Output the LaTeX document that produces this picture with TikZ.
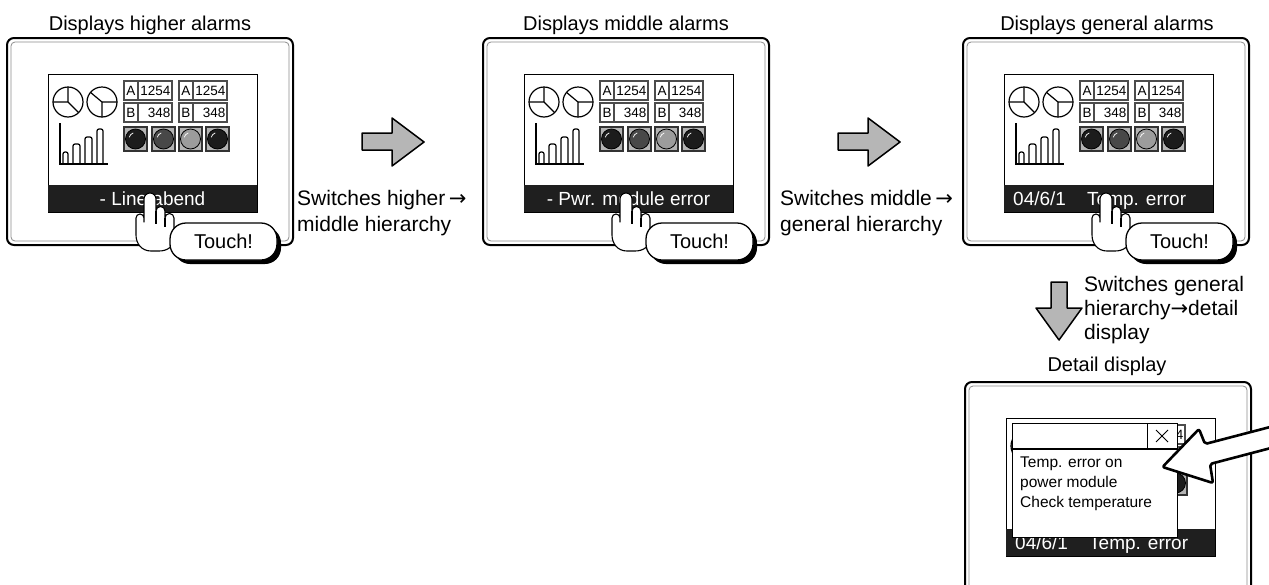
\documentclass[tikz,border=0pt]{standalone}
\usepackage{fontspec}
\setmainfont{Liberation Sans}
\newfontfamily\arrowfont{DejaVu Sans}
\usetikzlibrary{arrows.meta}

\definecolor{lampdark}{HTML}{1C1C1C}
\definecolor{lampmid}{HTML}{484848}
\definecolor{lamplight}{HTML}{9C9C9C}
\definecolor{lampbg}{HTML}{B4B4B4}
\definecolor{arrowgray}{HTML}{B6B6B6}

\tikzset{
  ttl/.style={inner sep=0pt, font=\fontsize{20}{26}\selectfont},
  lbl/.style={inner sep=0pt, align=left, font=\fontsize{21}{26}\selectfont},
  bezel/.style={draw, line width=2pt, rounded corners=7pt, fill=white},
  bezelin/.style={draw=black!45, line width=0.8pt, rounded corners=4pt},
  screenbox/.style={draw, line width=0.9pt, fill=white},
  msgbar/.style={fill=black!88},
  bartext/.style={inner sep=0pt, text=white, font=\fontsize{19}{23}\selectfont},
  datacell/.style={draw=black!70, line width=1.3pt},
  datatext/.style={inner sep=0pt, font=\fontsize{13.5}{16}\selectfont},
  lampbox/.style={draw=black!80, line width=1.1pt, fill=lampbg},
  lamp/.style={draw=black, line width=0.8pt},
  shine/.style={draw=white, line width=0.7pt},
  chartline/.style={draw, line width=1.2pt},
  handshape/.style={draw, fill=white, line width=1.1pt, line join=round},
  bubble/.style={draw, fill=white, line width=1.3pt, rounded corners=16pt},
  bubbleshadow/.style={fill=black, rounded corners=16pt},
  touchtext/.style={inner sep=0pt, font=\fontsize{20}{24}\selectfont},
  blockarrow/.style={draw, fill=arrowgray, line width=1.5pt, line join=round},
  ptrarrow/.style={draw, fill=white, line width=2.6pt, line join=round, rounded corners=2pt},
  dlgbox/.style={draw, fill=white, line width=1pt},
  dlgtext/.style={inner sep=0pt, font=\fontsize{15.5}{20}\selectfont},
}

% outer case of an operator panel, #1 = bottom edge
\newcommand\hmibezel[1]{%
  \path[bezel] (7,38) rectangle (293,#1);
  \path[bezelin] (11,42) rectangle (289,#1-4);}

% screen with pie charts, bar chart, numeric displays and lamps
% #1 = name prefix, #2 = numeric display columns (left edge/index)
\newcommand\hmiscreen[2]{%
  \path[screenbox] (48,74) rectangle (257,212);
  \path[chartline] (68,102) circle[radius=15];
  \path[chartline] (68,87) -- (68,102) -- (53,102) (68,102) -- (78.6,112.6);
  \path[chartline] (102,102) circle[radius=15];
  \path[chartline] (117,102) -- (102,102) -- (102,117) (102,102) -- (90.5,92.4);
  \path[chartline] (60,123) -- (60,164) -- (108,164);
  \foreach \bl/\br/\bt in {63/68/152,73/80/144,85/92/137,97/103/129}{
    \path[chartline, rounded corners=2pt] (\bl,164) -- (\bl,\bt) -- (\br,\bt) -- (\br,164);}
  \foreach \cx/\k in {#2}{
    \path[datacell] (\cx,81) rectangle ++(48,19);
    \path[datacell] (\cx+14,81) -- ++(0,19);
    \path[datacell] (\cx,103) rectangle ++(48,19);
    \path[datacell] (\cx+14,103) -- ++(0,19);
    \node[datatext] (#1la\k) at (\cx+7,90.5) {A};
    \node[datatext, anchor=east] (#1va\k) at (\cx+46.5,90.5) {1254};
    \node[datatext] (#1lb\k) at (\cx+7,112.5) {B};
    \node[datatext, anchor=east] (#1vb\k) at (\cx+46.5,112.5) {348};}
  \foreach \lx/\lc in {124/lampdark,152/lampmid,179/lamplight,206/lampdark}{
    \path[lampbox] (\lx,127) rectangle ++(23,24);
    \path[lamp, fill=\lc] (\lx+11.5,139) circle[radius=10];
    \path[shine] (\lx+11.5,139) ++(195:6.5) arc[start angle=195, end angle=250, radius=6.5];}
  \path[msgbar] (48,185) rectangle (257,212);}

% pointing hand and the "Touch!" balloon
\newcommand\touchhand[1]{%
  \begin{scope}[shift={(150,193)}]
    \path[handshape] (-6,6) arc[start angle=180, end angle=360, radius=6]
      -- (6,18) arc[start angle=180, end angle=360, radius=4.5]
      -- (15,25) arc[start angle=180, end angle=360, radius=4.5]
      -- (24,45) .. controls (24,53) and (18,58) .. (9,58)
      -- (1,58) .. controls (-8,58) and (-14,51) .. (-14,42)
      -- (-14,25) arc[start angle=180, end angle=360, radius=4]
      -- (-6,29) -- cycle;
    \draw[line width=1.1pt] (6,18) -- (6,31) (15,25) -- (15,34);
  \end{scope}
  \path[bubbleshadow] (174,227) rectangle (281,264);
  \path[bubble] (170,223) rectangle (277,260);
  \node[touchtext] (#1touch) at (223.5,241.5) {Touch!};}

\begin{document}
\begin{tikzpicture}[x=1pt,y=-1pt]
\useasboundingbox (0,0) rectangle (1269,584);
\clip (0,0) rectangle (1269,584);
\fill[white] (0,0) rectangle (1269,584);

% higher alarms
\node[ttl, anchor=base] (title1) at (150,30) {Displays higher alarms};
\hmibezel{245}
\hmiscreen{pa}{124/1,179/2}
\node[bartext, anchor=base] (bar1) at (152.5,205) {- Line abend};
\touchhand{pa}

% middle alarms
\node[ttl, anchor=base] (title2) at (626,30) {Displays middle alarms};
\begin{scope}[shift={(476,0)}]
  \hmibezel{245}
  \hmiscreen{pb}{124/1,179/2}
  \node[bartext, anchor=base] (bar2) at (152.5,205) {- Pwr. module error};
  \touchhand{pb}
\end{scope}

% general alarms
\node[ttl, anchor=base] (title3) at (1107,30) {Displays general alarms};
\begin{scope}[shift={(956,0)}]
  \hmibezel{245}
  \hmiscreen{pc}{124/1,179/2}
  \node[bartext, anchor=base west] (bar3a) at (57,205) {04/6/1};
  \node[bartext, anchor=base west] (bar3b) at (131,205) {Temp. error};
  \touchhand{pc}
\end{scope}

% transitions between the screens
\path[blockarrow] (362,133) -- (392,133) -- (392,118) -- (424,142) -- (392,166) -- (392,150) -- (362,150) -- cycle;
\node[lbl, anchor=base west] (sw1) at (297,231) {Switches higher\,{\arrowfont →}\\middle hierarchy};
\path[blockarrow] (838,133) -- (868,133) -- (868,118) -- (900,142) -- (868,166) -- (868,150) -- (838,150) -- cycle;
\node[lbl, anchor=base west] (sw2) at (780,231) {Switches middle\,{\arrowfont →}\\general hierarchy};
\path[blockarrow] (1051,282) -- (1067,282) -- (1067,308) -- (1082,308) -- (1059,340) -- (1036,308) -- (1051,308) -- cycle;
\node[lbl, anchor=base west, font=\fontsize{21}{24}\selectfont] (sw3) at (1084,339) {Switches general\\hierarchy{\arrowfont →}detail\\display};

% detail display: the screen lies behind the message window
\node[ttl, anchor=base] (title4) at (1107,371) {Detail display};
\begin{scope}[shift={(958,344)}]
  \hmibezel{275}
  \hmiscreen{pd}{179/2}
  \node[bartext, anchor=base west] (bar4a) at (57,205) {04/6/1};
  \node[bartext, anchor=base west] (bar4b) at (131,205) {Temp. error};
\end{scope}
\path[dlgbox] (1012,423) rectangle (1177,537);
\draw[line width=1.4pt] (1012,449) -- (1177,449);
\draw[line width=1pt] (1147,423) -- (1147,449);
\draw[line width=1pt] (1156,430) -- (1168,442) (1156,442) -- (1168,430);
\node[dlgtext, anchor=base west] (d1) at (1020,467) {Temp. error on};
\node[dlgtext, anchor=base west] (d2) at (1020,487) {power module};
\node[dlgtext, anchor=base west] (d3) at (1020,507) {Check temperature};
\path[ptrarrow] (1162.5,467) -- (1199,429) -- (1205,444) -- (1290,421.8) -- (1290,443) -- (1210,464) -- (1213,483) -- cycle;
\end{tikzpicture}
\end{document}
